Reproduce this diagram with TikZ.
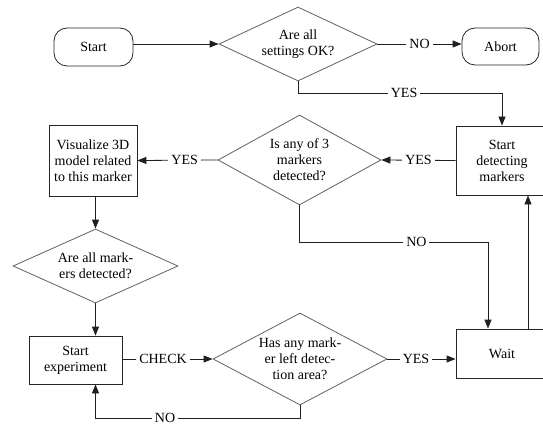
\documentclass[tikz,border=0pt]{standalone}
\usepackage{fontspec}
\setmainfont{Liberation Serif}
\usetikzlibrary{shapes.geometric,arrows.meta}
\begin{document}
\begin{tikzpicture}[x=1pt,y=-1pt,
  font=\fontsize{14}{16}\selectfont,
  txt/.style={align=center,inner sep=0pt,text=black},
  dia/.style={diamond,draw=black!62,line width=0.8pt,inner sep=0pt},
  box/.style={rectangle,draw=black!85,line width=0.8pt,align=center,inner sep=0pt},
  term/.style={box,rounded corners=13pt},
  con/.style={draw=black!88,line width=0.8pt},
  arr/.style={con,-{Triangle[length=9pt,width=7pt]}},
  lbl/.style={fill=white,inner sep=3pt,text=black}]
\useasboundingbox (0,0) rectangle (543,425);
\clip (0,0) rectangle (543,425);
\fill[white] (0,0) rectangle (543,425);

\node[term,minimum width=79pt,minimum height=38pt] (start) at (93.5,47) {Start};
\node[dia,minimum width=158pt,minimum height=74pt,
  label={[txt]center:Are all\\settings OK?}] (d1) at (298,44) {};
\node[term,minimum width=77pt,minimum height=37pt] (abort) at (500.5,46.5) {Abort};
\node[box,minimum width=92pt,minimum height=69pt] (detect) at (502,160.5) {Start\\detecting\\markers};
\node[dia,minimum width=163pt,minimum height=90pt,
  label={[txt]center:Is any of 3\\markers\\detected?}] (d2) at (299.5,160) {};
\node[box,minimum width=88pt,minimum height=71pt] (vis) at (93,160.5) {Visualize 3D\\model related\\to this marker};
\node[dia,minimum width=165pt,minimum height=74pt,
  label={[txt]center:Are all mark-\\ers detected?}] (d3) at (95.5,266) {};
\node[box,minimum width=93pt,minimum height=48pt] (sexp) at (75.5,360) {Start\\experiment};
\node[dia,minimum width=174pt,minimum height=92pt,
  label={[txt]center:Has any mark-\\er left detec-\\tion area?}] (d4) at (300,359) {};
\node[box,minimum width=92pt,minimum height=49pt] (wait) at (502,353.5) {Wait};

\coordinate (y93) at (0,93);
\coordinate (y242) at (0,242);
\coordinate (y418) at (0,418);
\coordinate (x488) at (488,0);
\coordinate (x528) at (528,0);

\draw[arr] (start.east |- d1.west) -- (d1.west);
\draw[arr] (d1.east) -- node[lbl] (l1) {NO} (abort.west |- d1.east);
\draw[arr] (d1.south) -- (d1.south |- y93) -- node[lbl,pos=0.52] (l2) {YES} (detect.north |- y93) -- (detect.north);
\draw[arr] (detect.west) -- node[lbl] (l3) {YES} (d2.east);
\draw[arr] (d2.west) -- node[lbl,pos=0.41] (l4) {YES} (vis.east);
\draw[arr] (vis.south -| d3.north) -- (d3.north);
\draw[arr] (d3.south) -- (sexp.north -| d3.south);
\draw[arr] (sexp.east |- d4.west) -- node[lbl,pos=0.45] (l5) {CHECK} (d4.west);
\draw[arr] (d4.east) -- node[lbl,pos=0.42] (l6) {YES} (wait.west |- d4.east);
\draw[arr] (d4.south) -- (d4.south |- y418) -- node[lbl,pos=0.66] (l7) {NO} (d3.south |- y418) -- (sexp.south -| d3.south);
\draw[arr] (d2.south) -- (d2.south |- y242) -- node[lbl,pos=0.62] (l8) {NO} (x488 |- y242) -- (wait.north -| x488);
\draw[arr] (wait.north -| x528) -- (detect.south -| x528);
\end{tikzpicture}
\end{document}
